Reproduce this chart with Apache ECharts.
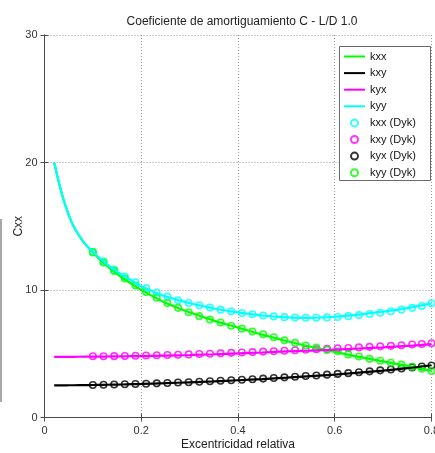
<!DOCTYPE html>
<html>
<head>
<meta charset="utf-8">
<script src="https://cdn.jsdelivr.net/npm/echarts@6/dist/echarts.min.js"></script>
<style>
  html, body { margin: 0; padding: 0; background: #fff; }
  #chart { width: 435px; height: 453px; }
</style>
</head>
<body>
<div id="chart"></div>
<script>
// Damping coefficients vs relative eccentricity, L/D = 1.0
const titleText = 'Coeficiente de amortiguamiento C - L/D 1.0';
const xName = 'Excentricidad relativa';
const yName = 'Cxx';

// Computed curves
const xLine = [0.02, 0.03, 0.04, 0.05, 0.06, 0.08, 0.10, 0.12, 0.14, 0.16, 0.18, 0.20,
               0.25, 0.30, 0.35, 0.40, 0.45, 0.50, 0.55, 0.60, 0.65, 0.70, 0.75, 0.80];
const kxx = [20.0, 18.4, 17.0, 15.9, 15.0, 13.8, 12.95, 12.2, 11.55, 10.98, 10.48, 10.0,
             9.0, 8.25, 7.6, 7.05, 6.5, 6.0, 5.55, 5.15, 4.75, 4.4, 4.05, 3.65];
const kxy = [2.52, 2.52, 2.52, 2.53, 2.53, 2.54, 2.55, 2.56, 2.58, 2.59, 2.61, 2.63,
             2.69, 2.76, 2.83, 2.92, 3.01, 3.12, 3.24, 3.37, 3.52, 3.68, 3.87, 4.1];
const kyx = [4.75, 4.75, 4.75, 4.76, 4.76, 4.77, 4.77, 4.78, 4.79, 4.8, 4.81, 4.82,
             4.86, 4.9, 4.96, 5.03, 5.1, 5.18, 5.25, 5.33, 5.41, 5.5, 5.61, 5.75];
const kyy = [20.0, 18.4, 17.0, 15.9, 15.0, 13.8, 13.0, 12.3, 11.7, 11.2, 10.75, 10.3,
             9.5, 8.98, 8.55, 8.24, 8.0, 7.86, 7.82, 7.9, 8.07, 8.3, 8.58, 8.95];

// Reference values (Dyk)
const xDyk = [0.100, 0.122, 0.144, 0.166, 0.188, 0.210, 0.232, 0.254, 0.276, 0.298, 0.320,
              0.342, 0.364, 0.386, 0.408, 0.430, 0.452, 0.474, 0.496, 0.518, 0.540, 0.562,
              0.584, 0.606, 0.628, 0.650, 0.672, 0.694, 0.716, 0.738, 0.760, 0.780, 0.800];
const kxxDyk = [13.0, 12.25, 11.6, 11.05, 10.6, 10.15, 9.8, 9.48, 9.2, 8.98, 8.8,
                8.62, 8.46, 8.33, 8.2, 8.1, 8.0, 7.93, 7.87, 7.84, 7.82, 7.82,
                7.85, 7.88, 7.95, 8.03, 8.12, 8.22, 8.33, 8.46, 8.6, 8.75, 8.95];
const kxyDyk = [4.8, 4.8, 4.81, 4.82, 4.84, 4.86, 4.88, 4.9, 4.92, 4.95, 4.98,
                5.0, 5.03, 5.07, 5.1, 5.13, 5.17, 5.2, 5.24, 5.28, 5.31, 5.35,
                5.38, 5.42, 5.45, 5.5, 5.54, 5.58, 5.62, 5.67, 5.72, 5.77, 5.82];
const kyxDyk = [2.55, 2.57, 2.59, 2.61, 2.63, 2.65, 2.68, 2.71, 2.74, 2.77, 2.8,
                2.84, 2.88, 2.92, 2.96, 3.0, 3.05, 3.1, 3.15, 3.2, 3.25, 3.3,
                3.36, 3.42, 3.48, 3.55, 3.62, 3.7, 3.77, 3.85, 3.93, 4.0, 4.08];
const kyyDyk = [12.95, 12.15, 11.5, 10.9, 10.35, 9.85, 9.4, 8.98, 8.6, 8.25, 7.95,
                7.68, 7.45, 7.2, 6.97, 6.75, 6.52, 6.3, 6.05, 5.85, 5.65, 5.48,
                5.3, 5.2, 4.95, 4.78, 4.6, 4.45, 4.3, 4.15, 3.98, 3.82, 3.65];

const xTicks = { min: 0, max: 0.8, interval: 0.2 };
const yTicks = { min: 0, max: 30, interval: 10 };

const lineNames = ['kxx', 'kxy', 'kyx', 'kyy'];
const dykNames = ['kxx (Dyk)', 'kxy (Dyk)', 'kyx (Dyk)', 'kyy (Dyk)'];

const zip = (xs, ys) => xs.map((x, i) => [x, ys[i]]);

const FONT = 'Liberation Sans, Arial, sans-serif';
const AXIS_COLOR = '#4a4a4a';

function lineSeries(name, ys, color) {
  return {
    name, type: 'line', data: zip(xLine, ys),
    smooth: 0.35,
    symbol: 'none', showSymbol: false,
    lineStyle: { color, width: 2.2 },
    itemStyle: { color },
    emphasis: { disabled: true }, animation: false
  };
}
function dykSeries(name, ys, color) {
  return {
    name, type: 'scatter', data: zip(xDyk, ys),
    symbol: 'circle', symbolSize: 6.5,
    itemStyle: { color: 'rgba(0,0,0,0)', borderColor: color, borderWidth: 1.6 },
    emphasis: { disabled: true }, animation: false
  };
}

const chart = echarts.init(document.getElementById('chart'), null, { renderer: 'canvas' });

const frameAxis = {
  axisLine: { show: true, lineStyle: { color: AXIS_COLOR, width: 1 } },
  axisTick: { show: true, inside: true, length: 4, lineStyle: { color: AXIS_COLOR } },
  axisLabel: { show: false },
  splitLine: { show: false }
};

chart.setOption({
  animation: false,
  backgroundColor: '#ffffff',
  textStyle: { fontFamily: FONT },
  title: {
    text: titleText,
    left: 237, top: 11, textAlign: 'center',
    textStyle: { fontFamily: FONT, fontSize: 12, fontWeight: 'normal', color: '#222' }
  },
  grid: { left: 44.5, right: 3.5, top: 35, bottom: 35.5, containLabel: false, outerBoundsMode: 'none' },
  legend: {
    orient: 'vertical', left: 343, top: 51, padding: 0, z: 20,
    itemWidth: 21, itemHeight: 7, itemGap: 5.6,
    textStyle: { fontFamily: FONT, fontSize: 11, color: '#111' },
    // line entries show only the stroke sample, no marker
    data: lineNames.map(n => ({ name: n, itemStyle: { opacity: 0 } })).concat(dykNames),
    selectedMode: false
  },
  xAxis: [{
    type: 'value', min: xTicks.min, max: xTicks.max, interval: xTicks.interval,
    name: xName, nameLocation: 'middle', nameGap: 21, nameMoveOverlap: false,
    nameTextStyle: { fontFamily: FONT, fontSize: 12, color: '#222' },
    axisLine: { show: true, onZero: false, lineStyle: { color: AXIS_COLOR, width: 1 } },
    axisTick: { show: true, inside: true, length: 4, lineStyle: { color: AXIS_COLOR } },
    axisLabel: { margin: 8, fontFamily: FONT, fontSize: 11, color: '#333', showMaxLabel: true,
                 formatter: v => (v === 0 ? '0' : String(+v.toFixed(1))) },
    splitLine: { show: true, lineStyle: { color: '#9a9a9a', width: 1, type: [1, 2] } }
  }, Object.assign({
    type: 'value', position: 'top', min: xTicks.min, max: xTicks.max, interval: xTicks.interval
  }, frameAxis)],
  yAxis: [{
    type: 'value', min: yTicks.min, max: yTicks.max, interval: yTicks.interval,
    name: yName, nameLocation: 'middle', nameGap: 20, nameRotate: 90, nameMoveOverlap: false,
    nameTextStyle: { fontFamily: FONT, fontSize: 12, color: '#222' },
    axisLine: { show: true, onZero: false, lineStyle: { color: AXIS_COLOR, width: 1 } },
    axisTick: { show: true, inside: true, length: 4, lineStyle: { color: AXIS_COLOR } },
    axisLabel: { margin: 7, fontFamily: FONT, fontSize: 11, color: '#333' },
    splitLine: { show: true, lineStyle: { color: '#9a9a9a', width: 1, type: [1, 2] } }
  }, Object.assign({
    type: 'value', position: 'right', min: yTicks.min, max: yTicks.max, interval: yTicks.interval
  }, frameAxis)],
  graphic: [
    {
      type: 'rect', z: 1, silent: true,
      shape: { x: 339.5, y: 46.5, width: 91, height: 134 },
      style: { fill: '#ffffff', stroke: '#6a6a6a', lineWidth: 1 }
    },
    {
      type: 'line', silent: true,
      shape: { x1: 1, y1: 219, x2: 1, y2: 402 },
      style: { stroke: '#8a8a8a', lineWidth: 1.5 }
    }
  ],
  series: [
    lineSeries('kxx', kxx, '#00ff00'),
    lineSeries('kxy', kxy, '#000000'),
    lineSeries('kyx', kyx, '#ff00ff'),
    lineSeries('kyy', kyy, '#00ffff'),
    dykSeries('kxx (Dyk)', kxxDyk, '#00ffff'),
    dykSeries('kxy (Dyk)', kxyDyk, '#ff00ff'),
    dykSeries('kyx (Dyk)', kyxDyk, '#000000'),
    dykSeries('kyy (Dyk)', kyyDyk, '#00ff00')
  ]
});
</script>
</body>
</html>
